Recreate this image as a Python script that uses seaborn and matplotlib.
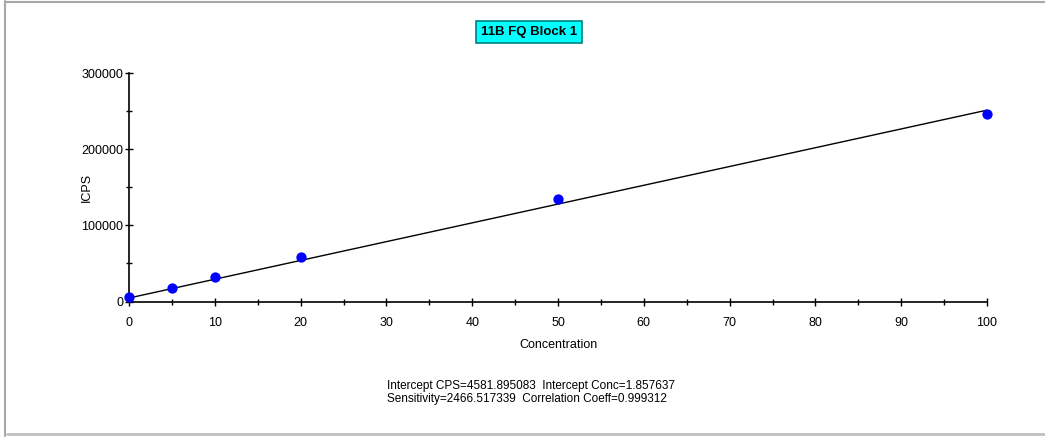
import matplotlib
matplotlib.use("Agg")
import matplotlib.pyplot as plt
import pandas as pd
import seaborn as sns
from matplotlib.lines import Line2D
from matplotlib.ticker import MultipleLocator

# calibration standards
concentration = [0, 5, 10, 20, 50, 100]
icps = [5800, 17600, 32100, 58400, 135000, 246600]

# fit parameters printed under the chart
intercept_cps = 4581.895083
intercept_conc = 1.857637
sensitivity = 2466.517339
corr_coeff = 0.999312

title = "11B FQ Block 1"
x_ticks = [0, 10, 20, 30, 40, 50, 60, 70, 80, 90, 100]
y_ticks = [0, 100000, 200000, 300000]

points = pd.DataFrame({"Concentration": concentration, "ICPS": icps})
fit_x = [x_ticks[0], x_ticks[-1]]
fit = pd.DataFrame({"Concentration": fit_x,
                    "ICPS": [intercept_cps + sensitivity * x for x in fit_x]})

sns.set_theme(style="white")
plt.rcParams["font.family"] = ["Liberation Sans", "DejaVu Sans"]

fig = plt.figure(figsize=(10.45, 4.38), dpi=100)
ax = fig.add_axes([129 / 1045, 1 - 301.5 / 438, (987 - 129) / 1045, (301.5 - 73) / 438])

sns.lineplot(data=fit, x="Concentration", y="ICPS", ax=ax, color="black", linewidth=1.0)
sns.scatterplot(data=points, x="Concentration", y="ICPS", ax=ax, color="#0000FF",
                s=55, edgecolor="#0000FF", linewidth=0, zorder=5, clip_on=False)

ax.set_xlim(0, 100)
ax.set_ylim(0, 300000)
ax.set_xticks(x_ticks)
ax.set_yticks(y_ticks)
ax.xaxis.set_minor_locator(MultipleLocator(5))
ax.yaxis.set_minor_locator(MultipleLocator(50000))
ax.tick_params(axis="both", which="major", direction="inout", length=6, width=1,
               colors="black", labelsize=9)
ax.tick_params(axis="x", which="major", pad=8)
ax.tick_params(axis="y", which="major", pad=1)
ax.tick_params(axis="both", which="minor", direction="inout", length=5, width=1, color="black")
ax.tick_params(axis="both", which="both", bottom=True, left=True)
for side in ["top", "right"]:
    ax.spines[side].set_visible(False)
for side in ["left", "bottom"]:
    ax.spines[side].set_color("black")
    ax.spines[side].set_linewidth(1.2)

ax.set_xlabel("Concentration", fontsize=9, color="black")
ax.set_ylabel("ICPS", fontsize=9, color="black")
ax.xaxis.set_label_coords(0.5, -0.165)
ax.yaxis.set_label_coords(-0.042, 0.5)

fig.text(529 / 1045, 1 - 32 / 438, title, ha="center", va="center", fontsize=9.5,
         fontweight="bold", color="black",
         bbox=dict(boxstyle="square,pad=0.35", facecolor="#00FFFF", edgecolor="#008080", linewidth=1.2))

stats = (f"Intercept CPS={intercept_cps:.6f}  Intercept Conc={intercept_conc:.6f}\n"
         f"Sensitivity={sensitivity:.6f}  Correlation Coeff={corr_coeff:.6f}")
fig.text(387 / 1045, 1 - 392.5 / 438, stats, ha="left", va="center", fontsize=8.5,
         color="black", linespacing=1.2)

# window frame lines
fig.add_artist(Line2D([5 / 1045, 1], [1 - 1.5 / 438, 1 - 1.5 / 438], color="#A8A8A8", linewidth=1.5))
fig.add_artist(Line2D([5 / 1045, 5 / 1045], [1 - 1 / 438, 1 - 436 / 438], color="#A8A8A8", linewidth=1.5))
fig.add_artist(Line2D([7 / 1045, 1], [1 - 434 / 438, 1 - 434 / 438], color="#C0C0C0", linewidth=2.0))

fig.savefig("out.png", dpi=100)
